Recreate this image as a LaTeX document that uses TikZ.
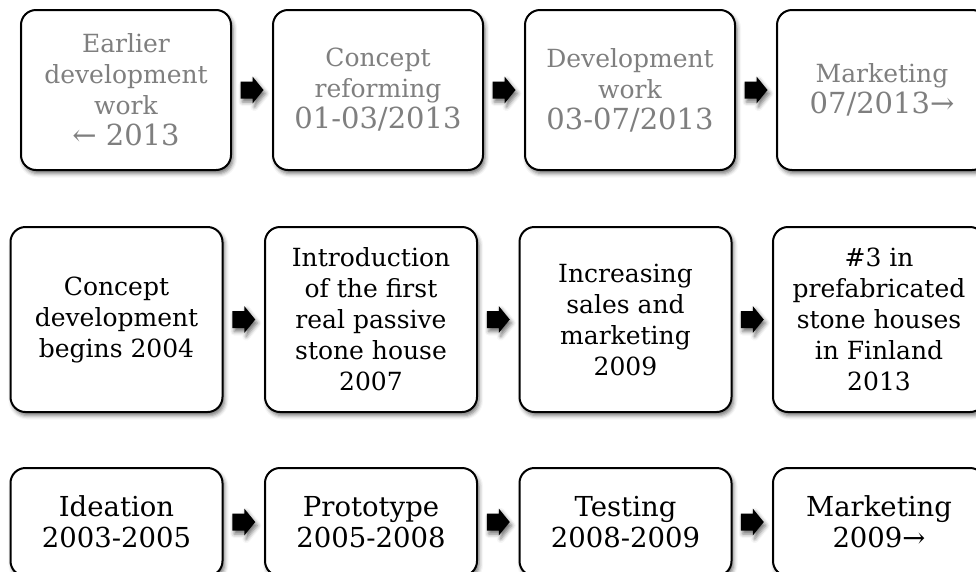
\documentclass[tikz,border=0pt]{standalone}
\usepackage{fontspec}
\setmainfont{DejaVu Serif}
\usetikzlibrary{calc,shadows.blur}

\definecolor{fadedtext}{HTML}{7F7F7F}

\tikzset{
  softshadow/.style={blur shadow={shadow xshift=2pt, shadow yshift=-3.5pt,
      shadow blur radius=4pt, shadow opacity=55}},
  stage/.style={draw=black, line width=2pt, fill=white, rounded corners=15pt,
      inner sep=0pt, align=center, font=\fontsize{25}{31}\selectfont, softshadow},
  planstage/.style={stage, minimum width=210pt, minimum height=160pt, text=fadedtext},
  histstage/.style={stage, minimum width=212pt, minimum height=185pt},
  phasestage/.style={stage, minimum width=212pt, minimum height=108pt,
      font=\fontsize{27.5}{31}\selectfont},
  stepfill/.style={fill=black, softshadow},
}

% larger type for the dates of the top row
\newcommand\datefont{\fontsize{29}{33}\selectfont}
% block arrow centred on a coordinate, pointing right
\newcommand\steparrow[1]{%
  \fill[stepfill] ($(#1)+(-11.5,-8.5)$) -- ++(12,0) -- ++(0,-5) -- ++(11,13.5)
    -- ++(-11,13.5) -- ++(0,-5) -- ++(-12,0) -- cycle;}

\begin{document}
\begin{tikzpicture}[x=1pt, y=-1pt]
  \useasboundingbox (0,0) rectangle (976,571);
  \clip (0,0) rectangle (976,571);

  % top row: current project phases
  \node[planstage] (p1) at (126,90) {Earlier\\development\\work\\{\datefont ← 2013}};
  \node[planstage] (p2) at (378,90) {Concept\\reforming\\{\datefont 01-03/2013}};
  \node[planstage] (p3) at (630,90) {Development\\work\\{\datefont 03-07/2013}};
  \node[planstage] (p4) at (882,90) {Marketing\\{\datefont 07/2013→}};

  % middle row: company history
  \node[histstage] (h1) at (116.5,319.5) {Concept\\development\\begins 2004};
  \node[histstage] (h2) at (371,319.5) {Introduction\\of the first\\real passive\\stone house\\2007};
  \node[histstage] (h3) at (625.5,319.5) {Increasing\\sales and\\marketing\\2009};
  \node[histstage] (h4) at (879,319.5) {\#3 in\\prefabricated\\stone houses\\in Finland\\2013};

  % bottom row: product phases
  \node[phasestage] (f1) at (116.5,522) {Ideation\\2003-2005};
  \node[phasestage] (f2) at (371,522) {Prototype\\2005-2008};
  \node[phasestage] (f3) at (625.5,522) {Testing\\2008-2009};
  \node[phasestage] (f4) at (879,522) {Marketing\\2009→};

  % arrows between neighbouring boxes
  \foreach \a/\b in {p1/p2, p2/p3, p3/p4, h1/h2, h2/h3, h3/h4, f1/f2, f2/f3, f3/f4} {
    \coordinate (\a-\b) at ($(\a.east)!0.5!(\b.west)$);
    \steparrow{\a-\b}
  }
\end{tikzpicture}
\end{document}
